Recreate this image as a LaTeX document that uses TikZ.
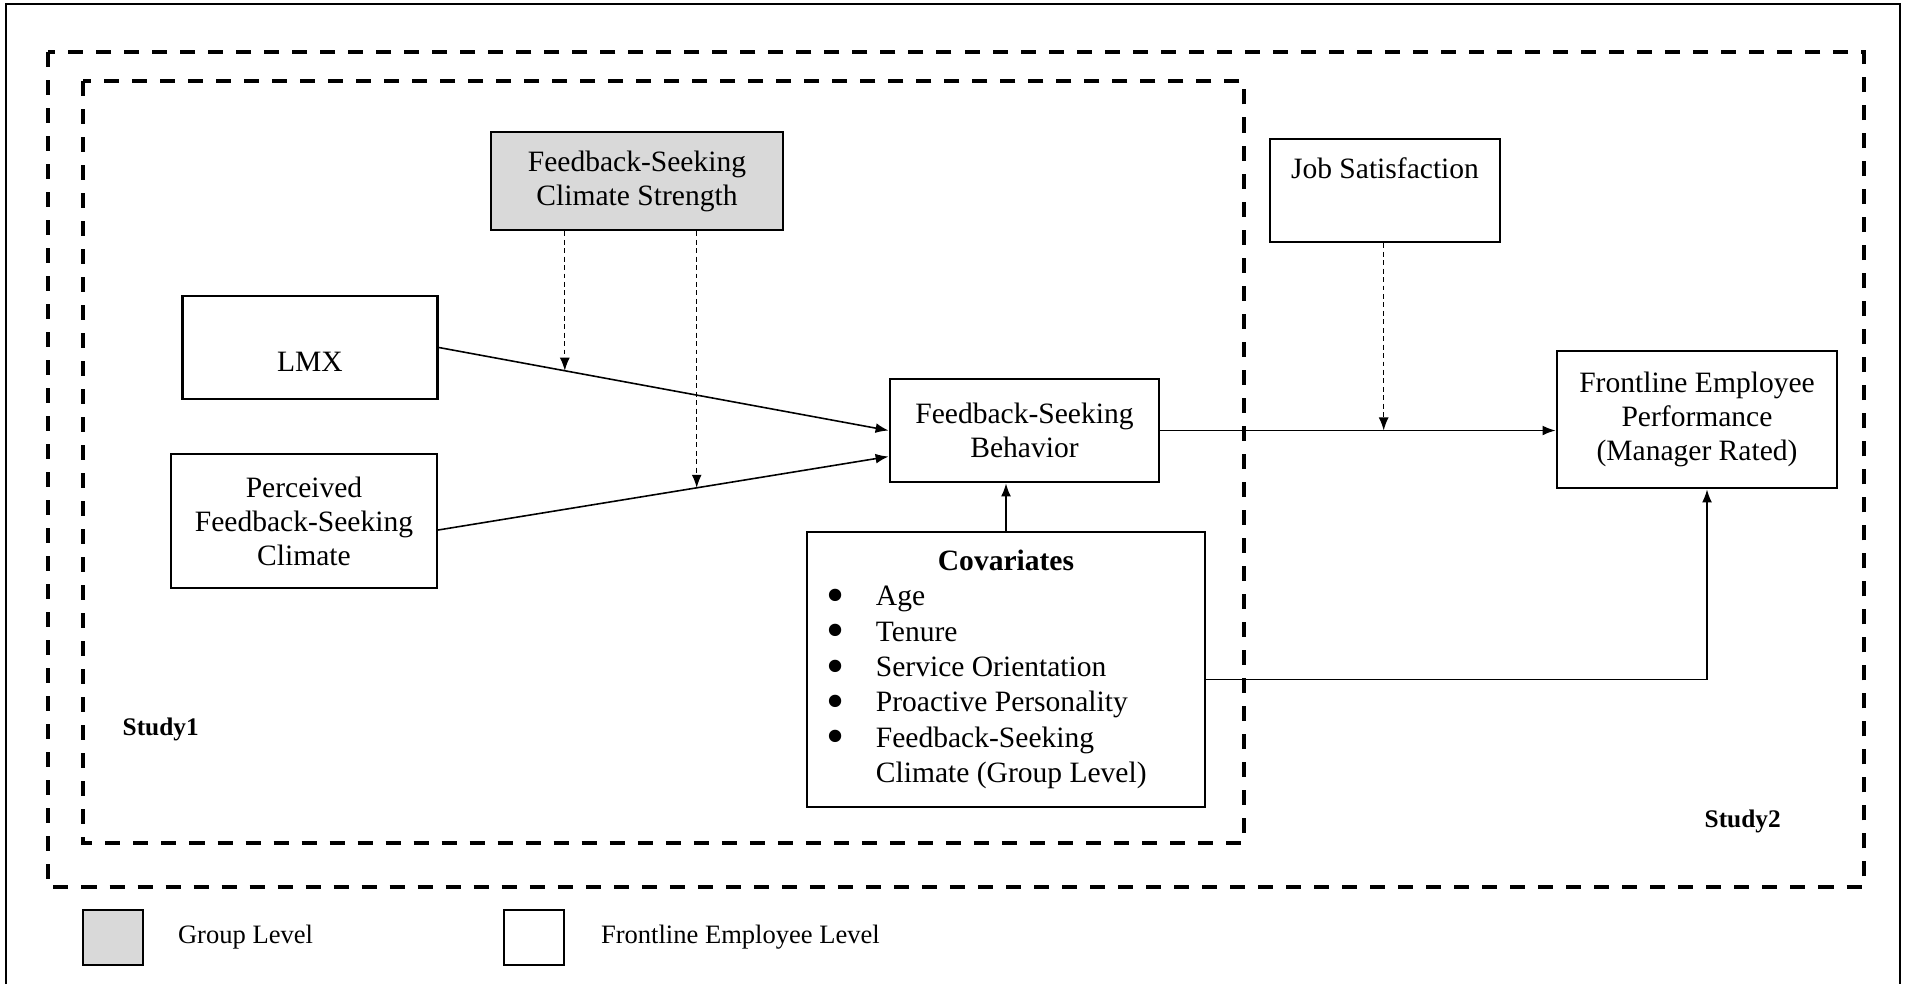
\documentclass[tikz,border=0pt]{standalone}
\usepackage{fontspec}
\usepackage{graphicx}
\setmainfont{Liberation Serif}
\usetikzlibrary{arrows.meta}
\usetikzlibrary{positioning}

\definecolor{lvlgray}{HTML}{D9D9D9}
\newcommand{\covitem}[1]{\makebox[3.54cm][l]{\makebox[0.47cm][l]{\hspace{-0.02cm}\smash{\raisebox{-1.9pt}{\scalebox{1.75}{\textbullet}}}}#1}}
\newcommand{\covmore}[1]{\makebox[3.54cm][l]{\hspace{0.47cm}#1}}

\begin{document}
\begin{tikzpicture}[x=0.01cm, y=-0.01cm, >={Latex[length=3.7pt,width=2.8pt]},
    font=\fontsize{8.4}{9.7}\selectfont,
    box/.style={rectangle, draw, line width=0.75pt, align=center, inner sep=0pt},
    grp/.style={box, fill=lvlgray},
    link/.style={line width=0.45pt, ->},
    mod/.style={line width=0.35pt, ->, dash pattern=on 1.4pt off 1pt},
    study/.style={draw, line width=1.15pt, dash pattern=on 0.15cm off 0.13cm},
    studylbl/.style={anchor=west, inner sep=0pt, font=\fontsize{7.2}{8.6}\selectfont\bfseries},
    keytxt/.style={inner sep=0pt, font=\fontsize{7.55}{9}\selectfont},
  ]
\useasboundingbox (0,0) rectangle (1908,984);
\draw[line width=0.6pt] (6,984) -- (6,4) -- (1900,4) -- (1900,984);

% study frames
\draw[study] (48,52) rectangle (1864,887);
\draw[study] (83,81) rectangle (1244,843);
\node (s1) [studylbl] at (122,729) {Study1};
\node (s2) [studylbl] at (1704,821) {Study2};

% constructs
\node (fscs) [grp, minimum width=2.92cm, minimum height=0.98cm] at (637,181)
  {Feedback-Seeking\\Climate Strength};
\node (lmx) [box, minimum width=2.55cm, minimum height=1.03cm,
  text height=13.4pt, text depth=0pt] at (310,347.5) {LMX};
\node (pfsc) [box, minimum width=2.655cm, minimum height=1.34cm] at (304,521)
  {Perceived\\Feedback-Seeking\\Climate};
\node (fsb) [box, minimum width=2.69cm, minimum height=1.03cm] at (1024.5,430.5)
  {Feedback-Seeking\\Behavior};
\node (js) [box, minimum width=2.30cm, minimum height=1.03cm,
  text height=6pt, text depth=13pt] at (1385,190.5) {Job Satisfaction};
\node (fep) [box, minimum width=2.80cm, minimum height=1.37cm] at (1697,419.5)
  {Frontline Employee\\Performance\\(Manager Rated)};
\node (cov) [box, minimum width=3.98cm, minimum height=2.75cm,
  font=\fontsize{8.4}{10.05}\selectfont] at (1006,669.5)
  {\textbf{Covariates}\\ \covitem{Age}\\ \covitem{Tenure}\\
   \covitem{Service Orientation}\\ \covitem{Proactive Personality}\\
   \covitem{Feedback-Seeking}\\ \covmore{Climate (Group Level)}};

% legend
\node (gkey) [grp, minimum width=0.60cm, minimum height=0.55cm] at (113,937.5) {};
\node (gtxt) [keytxt, right=0.33cm of gkey] {Group Level};
\node (fkey) [box, minimum width=0.60cm, minimum height=0.55cm] at (534,937.5) {};
\node (ftxt) [keytxt, right=0.35cm of fkey] {Frontline Employee Level};

% paths
\draw[link] (lmx.east) -- coordinate[pos=0.28] (m1) (fsb.west);
\draw[link] ([yshift=-0.09cm]pfsc.east) -- coordinate[pos=0.574] (m2) ([yshift=-0.26cm]fsb.west);
\draw[mod] (fscs.south -| m1) -- (m1);
\draw[mod] (fscs.south -| m2) -- (m2);
\draw[link] (fsb.east) -- coordinate[pos=0.565] (m3) (fsb.east -| fep.west);
\draw[mod] (js.south -| m3) -- (m3);
\draw[link] (cov.north) -- (cov.north |- fsb.south);
\draw[link] ([yshift=-0.1cm]cov.east) -| ([xshift=0.1cm]fep.south);
\end{tikzpicture}
\end{document}
